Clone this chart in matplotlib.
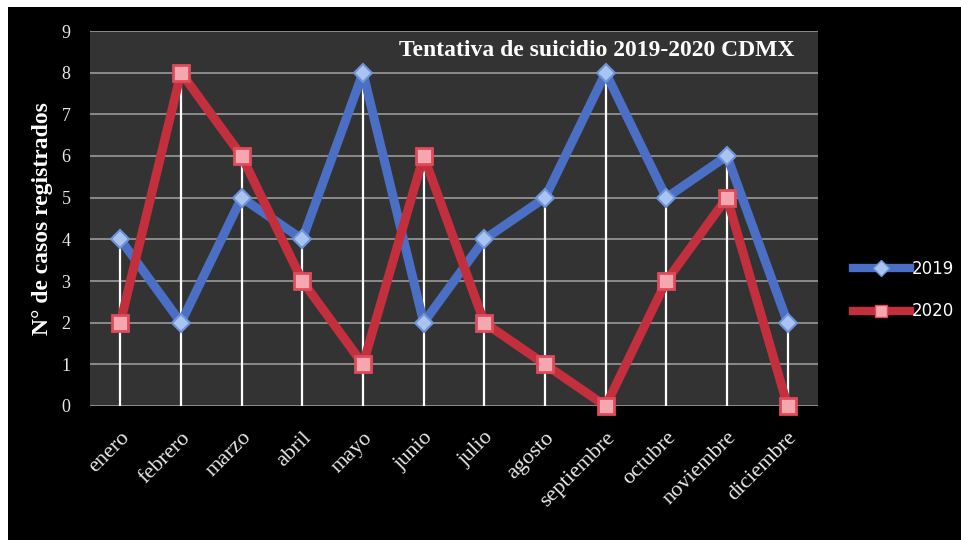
import matplotlib
matplotlib.use("Agg")
import matplotlib.pyplot as plt
from matplotlib.patches import Rectangle
from matplotlib.lines import Line2D
import numpy as np

months = ["enero", "febrero", "marzo", "abril", "mayo", "junio", "julio",
          "agosto", "septiembre", "octubre", "noviembre", "diciembre"]
v2019 = [4, 2, 5, 4, 8, 2, 4, 5, 8, 5, 6, 2]
v2020 = [2, 8, 6, 3, 1, 6, 2, 1, 0, 3, 5, 0]
yticks = list(range(0, 10))
title = "Tentativa de suicidio 2019-2020 CDMX"
ylabel = "N° de casos registrados"

W, H = 961, 540
fig = plt.figure(figsize=(W / 100, H / 100), dpi=100, facecolor="white")
bg = Rectangle((8 / W, 0), 1 - 8 / W, 1 - 7 / H, transform=fig.transFigure,
               facecolor="black", edgecolor="none", zorder=-10)
fig.add_artist(bg)

ax = fig.add_axes([90 / W, 1 - 406 / H, (818 - 90) / W, (406 - 31) / H])
ax.set_facecolor("#333333")
x = np.arange(len(months))

for yv in yticks:
    ax.axhline(yv, color="#9a9a9a", lw=1.2, zorder=1)

tops = np.maximum(v2019, v2020)
ax.vlines(x, 0, tops, color="white", lw=1.6, zorder=2)

blue = "#4a6fc4"
red = "#c42f3e"
ax.plot(x, v2019, color=blue, lw=6.5, zorder=3, solid_joinstyle="round")
ax.plot(x, v2020, color=red, lw=6.5, zorder=4, solid_joinstyle="round")
ax.plot(x, v2019, ls="none", marker="D", ms=9, mfc="#a9c4f0", mec="#6f93da", mew=1.5, zorder=5,
        clip_on=False)
ax.plot(x, v2020, ls="none", marker="s", ms=12, mfc="#f4a7ae", mec="#e04a5a", mew=2, zorder=6,
        clip_on=False)

ax.set_xlim(-0.5, 11.5)
ax.set_ylim(0, 9)
ax.set_yticks(yticks)
ax.set_xticks(x)
ax.set_xticklabels(months, rotation=45, ha="right", rotation_mode="anchor",
                   fontfamily="Liberation Serif", fontsize=16, color="#e8e8e8")
ax.set_yticklabels([str(v) for v in yticks], fontfamily="Liberation Serif",
                   fontsize=13, color="#e8e8e8")
ax.tick_params(axis="y", length=0, pad=14)
ax.tick_params(axis="x", length=0, pad=16)
for s in ax.spines.values():
    s.set_visible(False)

ax.set_ylabel(ylabel, fontfamily="Liberation Serif", fontweight="bold",
              fontsize=17, color="white", labelpad=6)
ax.text(0.967, 0.947, title, transform=ax.transAxes, ha="right", va="center",
        fontfamily="Liberation Serif", fontweight="bold", fontsize=17, color="white")

h1 = Line2D([], [], color=blue, lw=6, marker="D", ms=8, mfc="#a9c4f0", mec="#6f93da")
h2 = Line2D([], [], color=red, lw=6, marker="s", ms=9, mfc="#f4a7ae", mec="#e04a5a")
leg = fig.legend([h1, h2], ["2019", "2020"], loc="center left",
                 bbox_to_anchor=(838 / W, 1 - 290 / H), frameon=False,
                 labelcolor="white", prop={"family": "DejaVu Sans", "size": 12},
                 handlelength=3.4, labelspacing=1.5, handletextpad=0.1)

fig.savefig("out.png", dpi=100, facecolor=fig.get_facecolor())
